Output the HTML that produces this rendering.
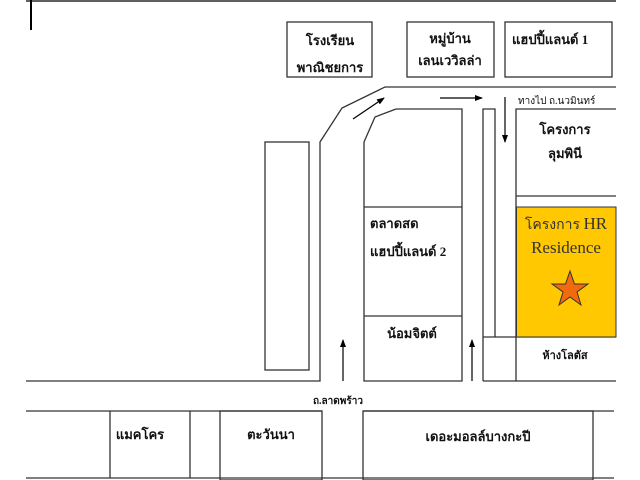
<!DOCTYPE html>
<html><head><meta charset="utf-8"><style>
html,body{margin:0;padding:0;background:#fff;width:640px;height:480px;overflow:hidden}
svg{display:block}
text{font-family:"Liberation Serif","DejaVu Sans",serif;font-weight:bold;fill:#111}
</style></head><body>
<svg width="640" height="480" viewBox="0 0 640 480" xmlns="http://www.w3.org/2000/svg">
<defs><marker id="ah" markerWidth="8" markerHeight="8" refX="7" refY="4" orient="auto" markerUnits="userSpaceOnUse"><path d="M0,1 L8,4 L0,7 Z" fill="#000"/></marker></defs>
<g fill="none" stroke="#333" stroke-width="1.3">
<line x1="26" y1="1" x2="616" y2="1" stroke="#000"/>
<line x1="31" y1="0" x2="31" y2="30" stroke="#000" stroke-width="2"/>
<rect x="287" y="22" width="85" height="55"/>
<rect x="407" y="22" width="87" height="55"/>
<rect x="505" y="22" width="107" height="55"/>
<polyline points="616,87 385,87 342,108 320,142 320,381 26,381"/>
<rect x="265" y="142" width="44" height="228"/>
<polyline points="396,109 375,117 364,142 364,381 462,381 462,109 396,109"/>
<line x1="364" y1="207" x2="462" y2="207"/>
<line x1="364" y1="316" x2="462" y2="316"/>
<polyline points="483,381 483,109 495,109 495,337"/>
<line x1="483" y1="337" x2="616" y2="337"/>
<line x1="483" y1="381" x2="616" y2="381"/>
<polyline points="616,109 516,109 516,381"/>
<line x1="516" y1="196" x2="616" y2="196"/>
<line x1="26" y1="411" x2="322" y2="411"/>
<line x1="363" y1="411" x2="614" y2="411"/>
<line x1="26" y1="478" x2="614" y2="478"/>
<line x1="110" y1="411" x2="110" y2="478"/>
<line x1="190" y1="411" x2="190" y2="478"/>
<rect x="220" y="411" width="102" height="69"/>
<rect x="363" y="411" width="230" height="69"/>
</g>
<rect x="516.5" y="207" width="99.5" height="130" fill="#ffc800" stroke="#333" stroke-width="1"/>
<polygon points="570,271 574.5,284 588,284 577,292 581,305 570,297 559,305 563,292 552,284 565.5,284" fill="#f26a10" stroke="#333" stroke-width="1"/>
<g stroke="#000" stroke-width="1.2" marker-end="url(#ah)">
<line x1="353" y1="119" x2="384" y2="98"/>
<line x1="440" y1="98" x2="482" y2="98"/>
<line x1="505" y1="97" x2="505" y2="142"/>
<line x1="343" y1="381" x2="343" y2="340"/>
<line x1="472" y1="381" x2="472" y2="340"/>
</g>
<g font-size="13">
<text x="330" y="45" text-anchor="middle">โรงเรียน</text>
<text x="330" y="72" text-anchor="middle">พาณิชยการ</text>
<text x="450" y="43" text-anchor="middle">หมู่บ้าน</text>
<text x="450" y="65" text-anchor="middle">เลนเววิลล่า</text>
<text x="512" y="44">แฮปปี้แลนด์ 1</text>
<text x="518" y="104" font-size="10" style="font-weight:normal">ทางไป ถ.นวมินทร์</text>
<text x="565" y="134" text-anchor="middle">โครงการ</text>
<text x="565" y="158" text-anchor="middle">ลุมพินี</text>
<text x="370" y="228">ตลาดสด</text>
<text x="370" y="256">แฮปปี้แลนด์ 2</text>
<text x="412" y="338" text-anchor="middle">น้อมจิตต์</text>
<text x="565" y="359" text-anchor="middle" font-size="11">ห้างโลตัส</text>
<text x="338" y="404" text-anchor="middle" font-size="10">ถ.ลาดพร้าว</text>
<text x="140" y="439" text-anchor="middle">แมคโคร</text>
<text x="271" y="439" text-anchor="middle">ตะวันนา</text>
<text x="478" y="441" text-anchor="middle">เดอะมอลล์บางกะปี</text>
</g>
<text x="566" y="229" text-anchor="middle" font-size="14" style="font-weight:normal;fill:#333">โครงการ <tspan font-size="17">HR</tspan></text>
<text x="566" y="253" text-anchor="middle" font-size="17" style="font-weight:normal;fill:#333">Residence</text>
</svg>
</body></html>
